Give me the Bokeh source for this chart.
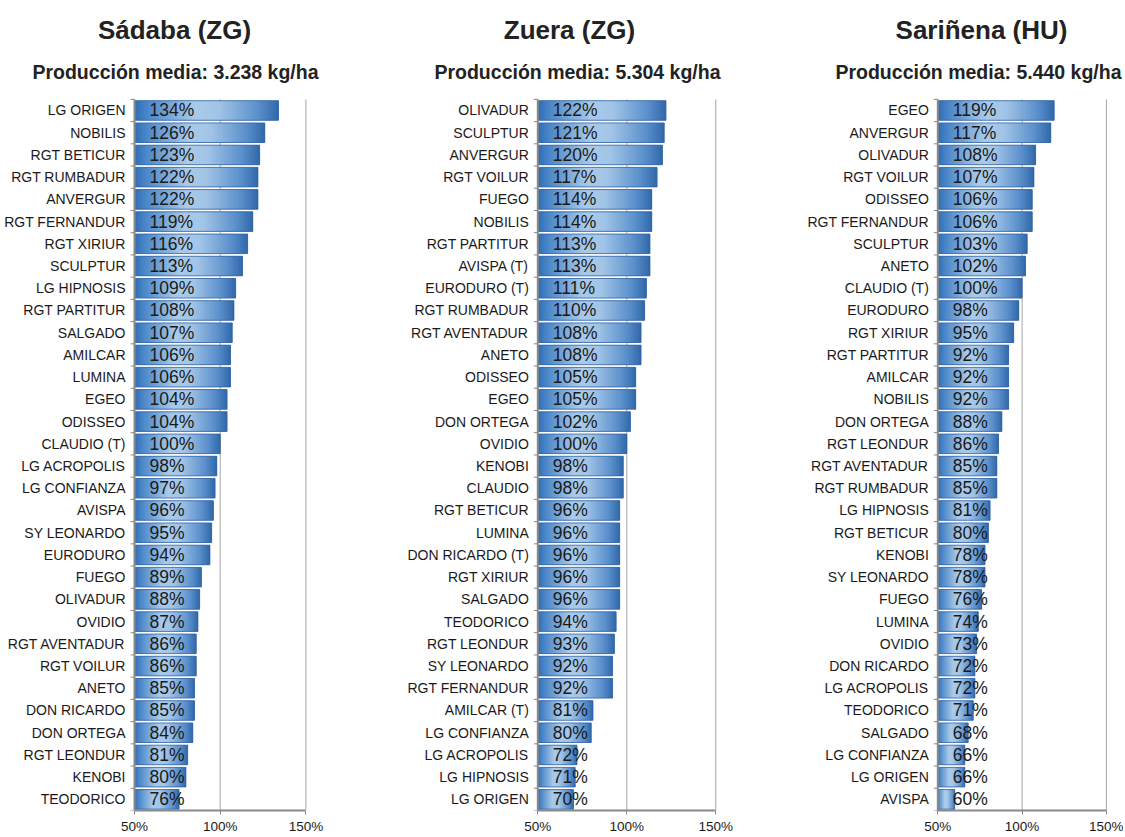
import numpy as np
from bokeh.plotting import figure
from bokeh.layouts import row
from bokeh.models import Range1d, FixedTicker
from bokeh.core.properties import value
from bokeh.embed import file_html
from bokeh.resources import INLINE

# ---------------- data ----------------
sadaba_title = "Sádaba (ZG)"
sadaba_subtitle = "Producción media: 3.238 kg/ha"
sadaba_cats = ["LG ORIGEN", "NOBILIS", "RGT BETICUR", "RGT RUMBADUR", "ANVERGUR",
               "RGT FERNANDUR", "RGT XIRIUR", "SCULPTUR", "LG HIPNOSIS", "RGT PARTITUR",
               "SALGADO", "AMILCAR", "LUMINA", "EGEO", "ODISSEO", "CLAUDIO (T)",
               "LG ACROPOLIS", "LG CONFIANZA", "AVISPA", "SY LEONARDO", "EURODURO",
               "FUEGO", "OLIVADUR", "OVIDIO", "RGT AVENTADUR", "RGT VOILUR", "ANETO",
               "DON RICARDO", "DON ORTEGA", "RGT LEONDUR", "KENOBI", "TEODORICO"]
sadaba_vals = [134, 126, 123, 122, 122, 119, 116, 113, 109, 108, 107, 106, 106, 104, 104, 100,
               98, 97, 96, 95, 94, 89, 88, 87, 86, 86, 85, 85, 84, 81, 80, 76]

zuera_title = "Zuera (ZG)"
zuera_subtitle = "Producción media: 5.304 kg/ha"
zuera_cats = ["OLIVADUR", "SCULPTUR", "ANVERGUR", "RGT VOILUR", "FUEGO", "NOBILIS",
              "RGT PARTITUR", "AVISPA (T)", "EURODURO (T)", "RGT RUMBADUR", "RGT AVENTADUR",
              "ANETO", "ODISSEO", "EGEO", "DON ORTEGA", "OVIDIO", "KENOBI", "CLAUDIO",
              "RGT BETICUR", "LUMINA", "DON RICARDO (T)", "RGT XIRIUR", "SALGADO",
              "TEODORICO", "RGT LEONDUR", "SY LEONARDO", "RGT FERNANDUR", "AMILCAR (T)",
              "LG CONFIANZA", "LG ACROPOLIS", "LG HIPNOSIS", "LG ORIGEN"]
zuera_vals = [122, 121, 120, 117, 114, 114, 113, 113, 111, 110, 108, 108, 105, 105, 102, 100,
              98, 98, 96, 96, 96, 96, 96, 94, 93, 92, 92, 81, 80, 72, 71, 70]

sarinena_title = "Sariñena (HU)"
sarinena_subtitle = "Producción media: 5.440 kg/ha"
sarinena_cats = ["EGEO", "ANVERGUR", "OLIVADUR", "RGT VOILUR", "ODISSEO", "RGT FERNANDUR",
                 "SCULPTUR", "ANETO", "CLAUDIO (T)", "EURODURO", "RGT XIRIUR", "RGT PARTITUR",
                 "AMILCAR", "NOBILIS", "DON ORTEGA", "RGT LEONDUR", "RGT AVENTADUR",
                 "RGT RUMBADUR", "LG HIPNOSIS", "RGT BETICUR", "KENOBI", "SY LEONARDO",
                 "FUEGO", "LUMINA", "OVIDIO", "DON RICARDO", "LG ACROPOLIS", "TEODORICO",
                 "SALGADO", "LG CONFIANZA", "LG ORIGEN", "AVISPA"]
sarinena_vals = [119, 117, 108, 107, 106, 106, 103, 102, 100, 98, 95, 92, 92, 92, 88, 86,
                 85, 85, 81, 80, 78, 78, 76, 74, 73, 72, 72, 71, 68, 66, 66, 60]

tick_values = [50, 100, 150]
tick_labels = ["50%", "100%", "150%"]
BASE = 50

# ---------------- styling / layout ----------------
FIG_H = 836
TOP_PX = 99          # px from figure top to top of plot area
ROW_PX = 22.25
BAR_H = 0.88
TEXT_COLOR = "#1a1a1a"
GRID_COLOR = "#a6a6a6"
AXIS_COLOR = "#8a8a8a"
SANS = value("Liberation Sans")

stops = [(0.0, "#2f6cb4"), (0.08, "#4784c7"), (0.42, "#a9cae9"), (0.58, "#a2c5e7"),
         (0.86, "#5a8fcc"), (1.0, "#3068aa")]


def hex2rgb(h):
    h = h.lstrip("#")
    return np.array([int(h[i:i + 2], 16) for i in (0, 2, 4)], dtype=float)


def grad_color(t):
    for (t0, c0), (t1, c1) in zip(stops[:-1], stops[1:]):
        if t0 <= t <= t1:
            f = (t - t0) / (t1 - t0)
            c = hex2rgb(c0) * (1 - f) + hex2rgb(c1) * f
            return "#%02x%02x%02x" % tuple(int(round(v)) for v in c)
    return stops[-1][1]


panels = [
    dict(title=sadaba_title, sub=sadaba_subtitle, cats=sadaba_cats, vals=sadaba_vals,
         width=380, axis_px=134.0, scale=1.714, title_px=174, sub_px=175),
    dict(title=zuera_title, sub=zuera_subtitle, cats=zuera_cats, vals=zuera_vals,
         width=400, axis_px=157.3, scale=1.78, title_px=189, sub_px=197),
    dict(title=sarinena_title, sub=sarinena_subtitle, cats=sarinena_cats, vals=sarinena_vals,
         width=343, axis_px=157.3, scale=1.686, title_px=201, sub_px=198),
]


def make_panel(cfg):
    cats, vals = cfg["cats"], cfg["vals"]
    n = len(cats)
    x0 = BASE - cfg["axis_px"] / cfg["scale"]
    x1 = x0 + cfg["width"] / cfg["scale"]
    ytop = -TOP_PX / ROW_PX

    p = figure(width=cfg["width"], height=FIG_H, output_backend="svg", toolbar_location=None,
               x_range=Range1d(x0, x1), y_range=Range1d(start=n, end=ytop),
               min_border_left=0, min_border_right=0, min_border_top=0, min_border_bottom=0)
    p.outline_line_color = None
    p.background_fill_color = "white"
    p.border_fill_color = "white"
    p.xgrid.visible = False
    p.ygrid.visible = False
    p.yaxis.visible = False

    ax = p.xaxis[0]
    ax.ticker = FixedTicker(ticks=tick_values)
    ax.major_label_overrides = {v: l for v, l in zip(tick_values, tick_labels)}
    ax.bounds = (tick_values[0], tick_values[-1])
    ax.axis_line_color = AXIS_COLOR
    ax.axis_line_width = 2
    ax.major_tick_line_color = AXIS_COLOR
    ax.major_tick_out = 4
    ax.major_tick_in = 0
    ax.minor_tick_line_color = None
    ax.major_label_standoff = 4
    ax.major_label_text_font = "Liberation Sans"
    ax.major_label_text_font_size = "13.5px"
    ax.major_label_text_color = TEXT_COLOR

    centers = [i + 0.5 for i in range(n)]

    # gridlines at 100% and 150%
    gx = tick_values[1:]
    p.segment(x0=gx, y0=[0] * len(gx), x1=gx, y1=[n] * len(gx), line_color=GRID_COLOR, line_width=1)

    # gradient bars (each bar split into overlapping slices coloured along its length)
    K = 60
    L, R, T, B, C = [], [], [], [], []
    for c, v in zip(centers, vals):
        step = (v - BASE) / K
        for k in range(K):
            a = BASE + step * k
            b = min(BASE + step * (k + 2), v)
            L.append(a); R.append(b)
            T.append(c - BAR_H / 2); B.append(c + BAR_H / 2)
            C.append(grad_color((k + 0.5) / K))
    p.quad(left=L, right=R, top=T, bottom=B, fill_color=C, line_color=None)
    p.quad(left=[BASE] * n, right=vals, top=[c - BAR_H / 2 for c in centers],
           bottom=[c + BAR_H / 2 for c in centers], fill_color=None,
           line_color="#2f62a3", line_width=0.8)

    # left axis line and category boundary ticks
    p.segment(x0=[BASE], y0=[0], x1=[BASE], y1=[n], line_color=AXIS_COLOR, line_width=2)
    p.ray(x=[BASE] * (n + 1), y=list(range(n + 1)), length=4, length_units="screen",
          angle=np.pi, line_color=AXIS_COLOR, line_width=1)

    # category labels
    p.text(x=[BASE] * n, y=centers, text=cats, x_offset=-9, text_align="right",
           text_baseline="middle", text_font=SANS, text_font_size="14px",
           text_color=TEXT_COLOR)
    # value labels
    p.text(x=[BASE] * n, y=centers, text=["%d%%" % v for v in vals], x_offset=15,
           text_align="left", text_baseline="middle", text_font=SANS,
           text_font_size="17.5px", text_color=TEXT_COLOR)

    # titles
    tx = BASE + (cfg["title_px"] - cfg["axis_px"]) / cfg["scale"]
    sx = BASE + (cfg["sub_px"] - cfg["axis_px"]) / cfg["scale"]
    p.text(x=[tx], y=[(30 - TOP_PX) / ROW_PX], text=[cfg["title"]], text_align="center",
           text_baseline="middle", text_font=SANS, text_font_style="bold",
           text_font_size="26px", text_color="#222222")
    p.text(x=[sx], y=[(72 - TOP_PX) / ROW_PX], text=[cfg["sub"]], text_align="center",
           text_baseline="middle", text_font=SANS, text_font_style="bold",
           text_font_size="19.5px", text_color="#222222")
    return p


figs = [make_panel(c) for c in panels]
layout = row(*figs, spacing=0)
open("out.html", "w").write(file_html(layout, INLINE))
